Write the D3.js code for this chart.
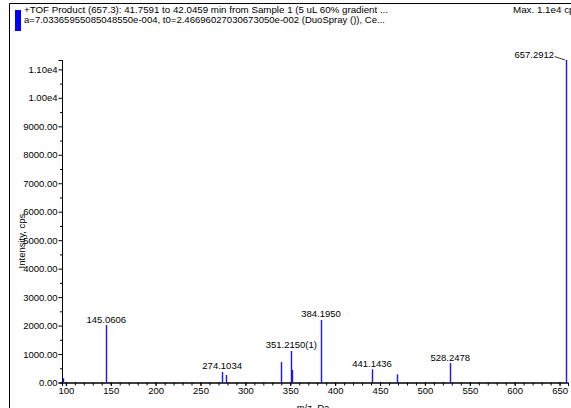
<!DOCTYPE html>
<html><head><meta charset="utf-8">
<script src="https://cdn.jsdelivr.net/npm/d3@7"></script>
<style>
html,body{margin:0;padding:0;background:#fff;overflow:hidden;}
svg{display:block;font-family:"Liberation Sans",Arial,sans-serif;}
</style></head>
<body>
<svg id="c" width="571" height="408"></svg>
<script>
// ---- data ----
const peakMz   = [96.5, 145.0606, 274.1034, 278.9, 339.8, 351.2150, 352.2, 384.1950, 441.1436, 468.8, 528.2478, 657.2912];
const peakInt  = [150, 2020, 369, 264, 720, 1107, 439, 2197, 464, 288, 685, 11330];
const labelMz  = [145.0606, 274.1034, 351.2150, 384.1950, 441.1436, 528.2478, 657.2912];
const labelInt = [2020, 369, 1107, 2197, 464, 685, 11330];
const labelTxt = ["145.0606", "274.1034", "351.2150(1)", "384.1950", "441.1436", "528.2478", "657.2912"];
const xTicks   = [100, 150, 200, 250, 300, 350, 400, 450, 500, 550, 600, 650];
const xTickLabels = ["100","150","200","250","300","350","400","450","500","550","600","650"];
const yTicks   = [0, 1000, 2000, 3000, 4000, 5000, 6000, 7000, 8000, 9000, 10000, 11000];
const yTickLabels = ["0.00","1000.00","2000.00","3000.00","4000.00","5000.00","6000.00","7000.00","8000.00","9000.00","1.00e4","1.10e4"];
const header1 = "+TOF Product (657.3): 41.7591 to 42.0459 min from Sample 1 (5 uL 60% gradient ...";
const header2 = "a=7.03365955085048550e-004, t0=2.46696027030673050e-002 (DuoSpray ()), Ce...";
const maxText = "Max. 1.1e4 cps";
const xTitle = "m/z, Da";
const yTitle = "Intensity, cps";

const svg = d3.select("#c");
const FS = 9.5;

// frame
svg.append("line").attr("x1",9.5).attr("x2",571).attr("y1",3.5).attr("y2",3.5).attr("stroke","#000").attr("stroke-width",1);
svg.append("line").attr("x1",9.5).attr("x2",9.5).attr("y1",3.5).attr("y2",408).attr("stroke","#000").attr("stroke-width",1);
svg.append("rect").attr("x",15).attr("y",10).attr("width",6).attr("height",21).attr("fill","#0000ff");

const h1 = svg.append("text").attr("x",24).attr("y",12.5).attr("font-size",9.8).text(header1);
const h2 = svg.append("text").attr("x",24).attr("y",22.5).attr("font-size",9.8).text(header2);
h1.attr("textLength", 364).attr("lengthAdjust","spacingAndGlyphs");
h2.attr("textLength", 361).attr("lengthAdjust","spacingAndGlyphs");
svg.append("text").attr("x",513).attr("y",12.5).attr("font-size",9.8).text(maxText);

// scales
const x = d3.scaleLinear().domain([95.7, 659.4]).range([62, 568]);
const y = d3.scaleLinear().domain([0, 11330]).range([382.5, 60]);

// y axis
const gy = svg.append("g").attr("transform","translate(62,0)");
gy.call(d3.axisLeft(y).tickValues(d3.range(500, 11330, 1000)).tickSize(2).tickFormat(""));
const gyM = svg.append("g").attr("transform","translate(62,0)");
gyM.call(d3.axisLeft(y).tickValues(yTicks).tickSize(3.5).tickPadding(1)
  .tickFormat((d,i)=>yTickLabels[i]));
[gy,gyM].forEach(g=>{
  g.selectAll("text").attr("font-size",FS).attr("font-family","Liberation Sans, Arial, sans-serif").attr("fill","#000");
  g.selectAll("line").attr("stroke","#000");
  g.select(".domain").attr("stroke","#000");
});

// x axis
const gx = svg.append("g").attr("transform","translate(0,382.5)");
gx.call(d3.axisBottom(x).tickValues(d3.range(100, 660, 10)).tickSize(3).tickFormat(""));
const gxM = svg.append("g").attr("transform","translate(0,382.5)");
gxM.call(d3.axisBottom(x).tickValues(xTicks).tickSize(3.5).tickPadding(1)
  .tickFormat((d,i)=>xTickLabels[i]));
[gx,gxM].forEach(g=>{
  g.selectAll("text").attr("font-size",FS).attr("font-family","Liberation Sans, Arial, sans-serif").attr("fill","#000");
  g.selectAll("line").attr("stroke","#000");
  g.select(".domain").attr("stroke","#000");
});

// peaks
svg.append("g").selectAll("line").data(peakMz).join("line")
  .attr("x1",(d)=>Math.round(x(d))+0.5).attr("x2",(d)=>Math.round(x(d))+0.5)
  .attr("y1",y(0)).attr("y2",(d,i)=>y(peakInt[i]))
  .attr("stroke","#1414ff").attr("stroke-width",1.4);

// peak labels
const last = labelMz.length-1;
svg.append("g").selectAll("text").data(labelMz).join("text")
  .attr("x",(d,i)=> i===last ? x(d)-12 : x(d))
  .attr("y",(d,i)=> i===last ? y(labelInt[i])-2 : y(labelInt[i])-2.5)
  .attr("text-anchor",(d,i)=> i===last ? "end" : "middle")
  .attr("font-size",FS).text((d,i)=>labelTxt[i]);
// leader for the top peak
svg.append("line")
  .attr("x1",x(labelMz[last])-11.5).attr("y1",y(labelInt[last])-3.5)
  .attr("x2",x(labelMz[last])-1).attr("y2",y(labelInt[last]))
  .attr("stroke","#000").attr("stroke-width",0.8);

// axis titles
svg.append("text").attr("x",313).attr("y",411).attr("text-anchor","middle").attr("font-size",FS).text(xTitle);
svg.append("text").attr("transform","translate(25,241) rotate(-90)").attr("text-anchor","middle").attr("font-size",FS).text(yTitle);
</script>
</body></html>
